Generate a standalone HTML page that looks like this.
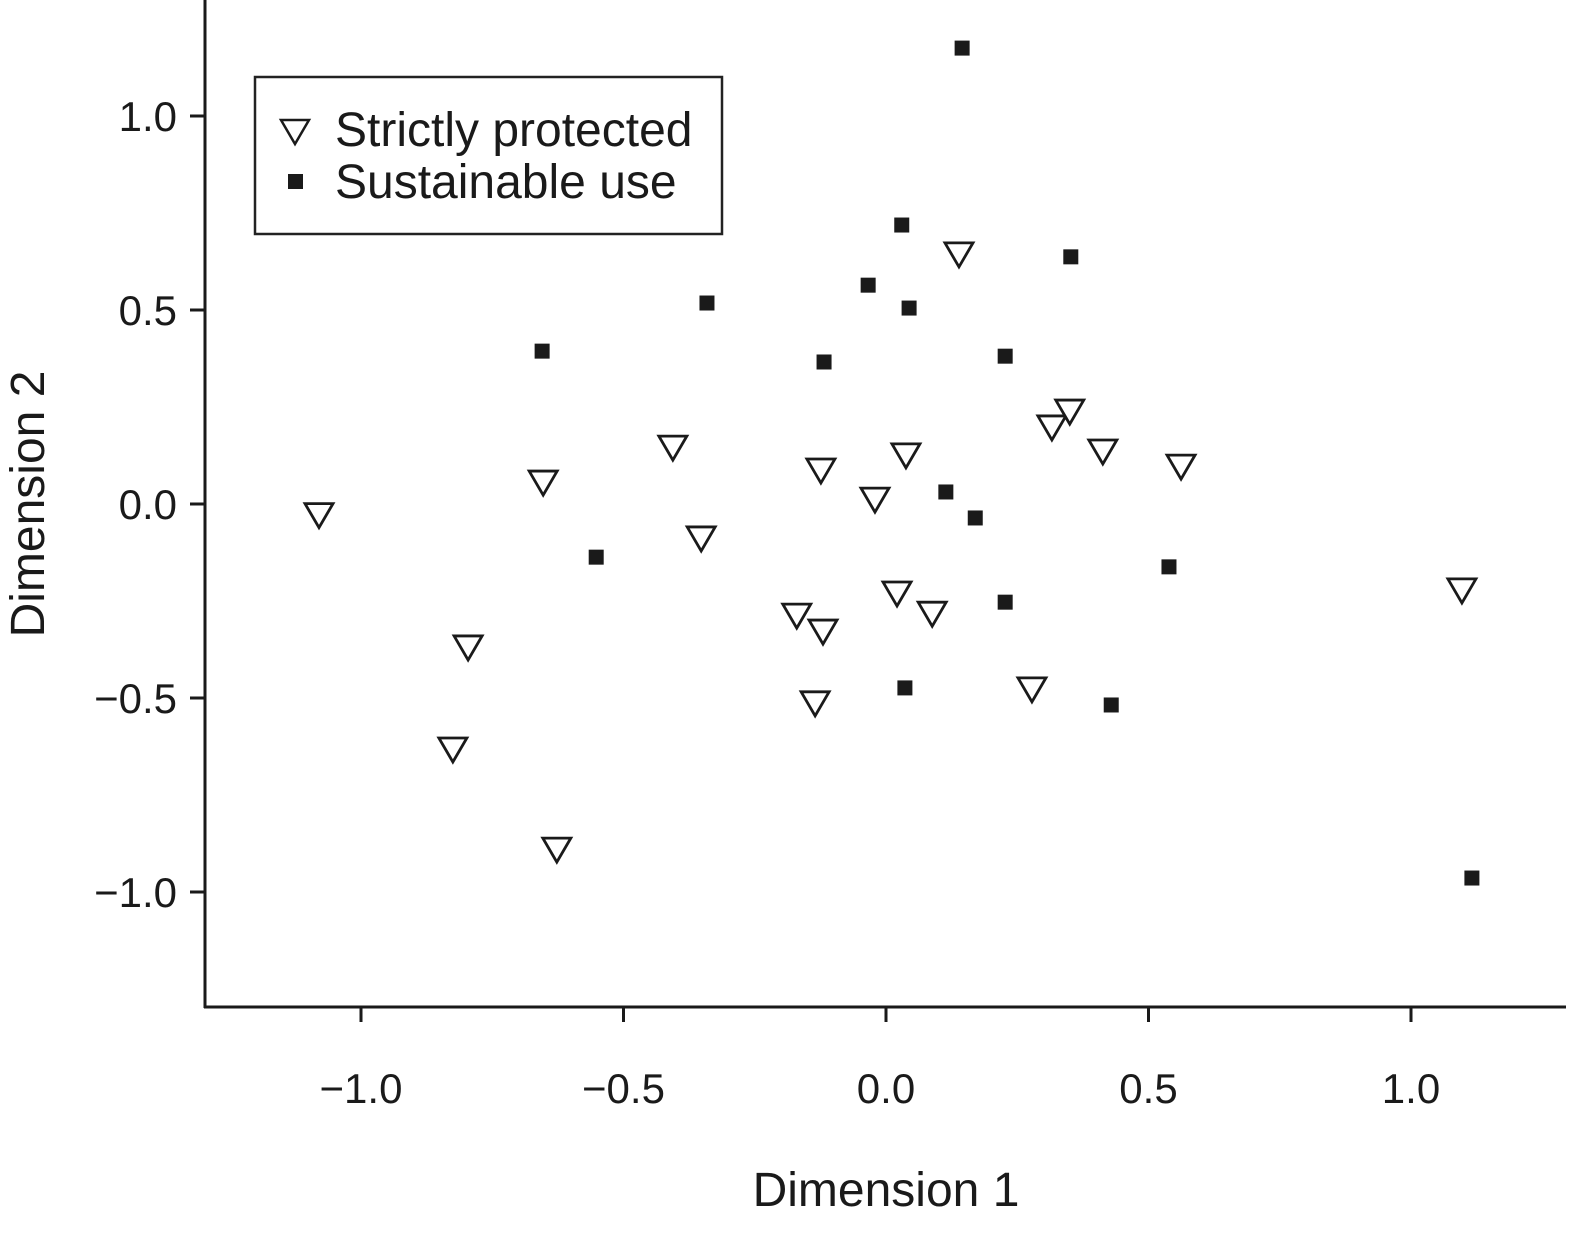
<!DOCTYPE html>
<html><head><meta charset="utf-8"><style>
html,body{margin:0;padding:0;background:#fff;}
svg{display:block;font-family:"Liberation Sans",Arial,sans-serif;}
</style></head><body>
<svg id="chart" width="1578" height="1237">
<g id="axes"></g>
<g id="marks"></g>
<g id="legend">
<rect x="255" y="77" width="467" height="157" fill="#fff" stroke="#222" stroke-width="2.5"/>
<path d="M281,120 L309,120 L295,144 Z" fill="#fff" stroke="#1a1a1a" stroke-width="2.5"/>
<rect x="288" y="174" width="15" height="15" fill="#1a1a1a"/>
<text x="335" y="146" font-size="48" fill="#1a1a1a">Strictly protected</text>
<text x="335" y="198" font-size="48" fill="#1a1a1a">Sustainable use</text>
</g>
<text x="886" y="1206" font-size="48" text-anchor="middle" fill="#1a1a1a">Dimension 1</text>
<text transform="translate(44,504) rotate(-90)" font-size="48" text-anchor="middle" fill="#1a1a1a">Dimension 2</text>
</svg>
<script>
const xTicks=[-1.0,-0.5,0.0,0.5,1.0];
const xTickLabels=["\u22121.0","\u22120.5","0.0","0.5","1.0"];
const yTicks=[1.0,0.5,0.0,-0.5,-1.0];
const yTickLabels=["1.0","0.5","0.0","\u22120.5","\u22121.0"];
const triX=[-1.08,-0.653,-0.406,-0.352,-0.796,-0.825,-0.627,-0.124,0.038,-0.021,0.139,0.316,0.350,0.413,0.562,-0.170,-0.120,0.021,0.088,-0.135,0.278,1.097];
const triY=[-0.03,0.054,0.144,-0.09,-0.371,-0.634,-0.892,0.085,0.124,0.01,0.642,0.196,0.237,0.134,0.095,-0.289,-0.330,-0.232,-0.284,-0.515,-0.479,-0.224];
const sqX=[0.145,0.030,-0.034,0.044,0.352,-0.341,-0.655,-0.118,0.227,0.114,0.170,-0.552,0.539,0.227,0.036,0.429,1.116];
const sqY=[1.175,0.719,0.564,0.505,0.637,0.518,0.394,0.366,0.381,0.031,-0.036,-0.137,-0.162,-0.253,-0.474,-0.518,-0.964];
const NS="http://www.w3.org/2000/svg";
const sx=v=>886+v*525;
const sy=v=>504-v*388;
function mk(tag,attrs,parent){const e=document.createElementNS(NS,tag);for(const k in attrs)e.setAttribute(k,attrs[k]);parent.appendChild(e);return e;}
const axes=document.getElementById('axes');
let l=mk('line',{x1:205,y1:0,x2:205,y2:1008,stroke:'#1a1a1a','stroke-width':3},axes);


l=mk('line',{x1:204,y1:1007,x2:1566,y2:1007,stroke:'#1a1a1a','stroke-width':3},axes);


xTicks.forEach((v,i)=>{
 const t=mk('line',{x1:sx(v),y1:1007,x2:sx(v),y2:1022,stroke:'#1a1a1a','stroke-width':3},axes);
 
 
 const tx=mk('text',{x:sx(v),y:1103,'font-size':42,'text-anchor':'middle',fill:'#1a1a1a'},axes);
 tx.textContent=xTickLabels[i];
 
 
});
yTicks.forEach((v,i)=>{
 const t=mk('line',{x1:190,y1:sy(v),x2:205,y2:sy(v),stroke:'#1a1a1a','stroke-width':3},axes);
 
 
 const tx=mk('text',{x:177,y:sy(v)+15,'font-size':42,'text-anchor':'end',fill:'#1a1a1a'},axes);
 tx.textContent=yTickLabels[i];
 
 
});
const marks=document.getElementById('marks');
triX.forEach((v,i)=>{
 const cx=sx(v),cy=sy(triY[i]);
 const p=mk('path',{d:`M${cx-14},${cy-12} L${cx+14},${cy-12} L${cx},${cy+12} Z`,fill:'#fff',stroke:'#1a1a1a','stroke-width':2.8},marks);
 
 
});
sqX.forEach((v,i)=>{
 const r=mk('rect',{x:sx(v)-7.5,y:sy(sqY[i])-7.5,width:15,height:15,fill:'#1a1a1a'},marks);
 
 
});
</script>
</body></html>
